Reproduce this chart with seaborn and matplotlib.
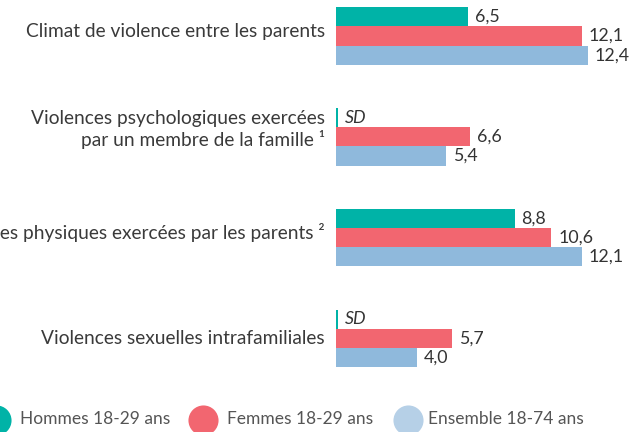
import matplotlib
matplotlib.use("Agg")
import matplotlib.pyplot as plt
import matplotlib.transforms as mtransforms
import seaborn as sns
import pandas as pd

categories = [
    "Climat de violence entre les parents",
    "Violences psychologiques exercées\npar un membre de la famille ¹",
    "Violences physiques exercées par les parents ²",
    "Violences sexuelles intrafamiliales",
]
series = ["Hommes 18-29 ans", "Femmes 18-29 ans", "Ensemble 18-74 ans"]
hommes = [6.5, None, 8.8, None]      # None = SD (sans données)
femmes = [12.1, 6.6, 10.6, 5.7]
ensemble = [12.4, 5.4, 12.1, 4.0]

bar_colors = ["#00B3A7", "#F26670", "#8FB9DC"]
legend_colors = ["#00B3A7", "#F26670", "#B6D0E7"]
SD_STUB = 0.1  # width of the thin marker drawn for missing values
label_lift = [6, 10, 7, 1]  # upward nudge of each category label, in pixels

sns.set_theme(style="white")
plt.rcParams["font.family"] = ["Lato", "DejaVu Sans"]

rows = []
for name, vals in zip(series, [hommes, femmes, ensemble]):
    for cat, v in zip(categories, vals):
        rows.append({"cat": cat, "serie": name,
                     "val": SD_STUB if v is None else v,
                     "label": "SD" if v is None else f"{v:.1f}".replace(".", ",")})
df = pd.DataFrame(rows)

W, H = 634, 432
fig = plt.figure(figsize=(W / 100, H / 100), dpi=100)
fig.patch.set_facecolor("white")

# bar area in pixel terms: left 336, right 634, top 0, bottom 390
ax = fig.add_axes([336 / W, (H - 390) / H, 298 / W, 390 / H])
sns.barplot(data=df, y="cat", x="val", hue="serie", order=categories,
            hue_order=series, palette=bar_colors, orient="h", width=0.57,
            saturation=1, errorbar=None, legend=False, linewidth=0, ax=ax)

ax.set_xlim(0, 298 / 20.3)
ax.set_ylim(3.512, -0.357)
ax.set_xlabel("")
ax.set_ylabel("")
ax.set_xticks([])
sns.despine(ax=ax, left=True, bottom=True)
ax.tick_params(axis="y", length=0, pad=8, labelsize=13.8, labelcolor="#3a3a3a")
for t, lift in zip(ax.get_yticklabels(), label_lift):
    t.set_horizontalalignment("right")
    t.set_multialignment("right")
    t.set_transform(t.get_transform() + mtransforms.Affine2D().translate(0, lift))

for cont, name in zip(ax.containers, series):
    labels = df[df["serie"] == name].set_index("cat").loc[categories, "label"].tolist()
    texts = ax.bar_label(cont, labels=labels, padding=5, fontsize=12.8, color="#333333")
    for t, lab in zip(texts, labels):
        if lab == "SD":
            t.set_fontstyle("italic")

# legend row at the bottom
lax = fig.add_axes([0, 0, 1, 1], zorder=-1)
lax.set_xlim(0, W)
lax.set_ylim(H, 0)
lax.axis("off")
for cx, tx, col, name in zip([-4, 203, 408], [20, 227, 428], legend_colors, series):
    lax.scatter([cx], [420], s=470, color=col, linewidths=0, clip_on=False)
    lax.text(tx, 419, name, va="center", ha="left", fontsize=12.5, color="#555555")

fig.savefig("out.png", dpi=100)
